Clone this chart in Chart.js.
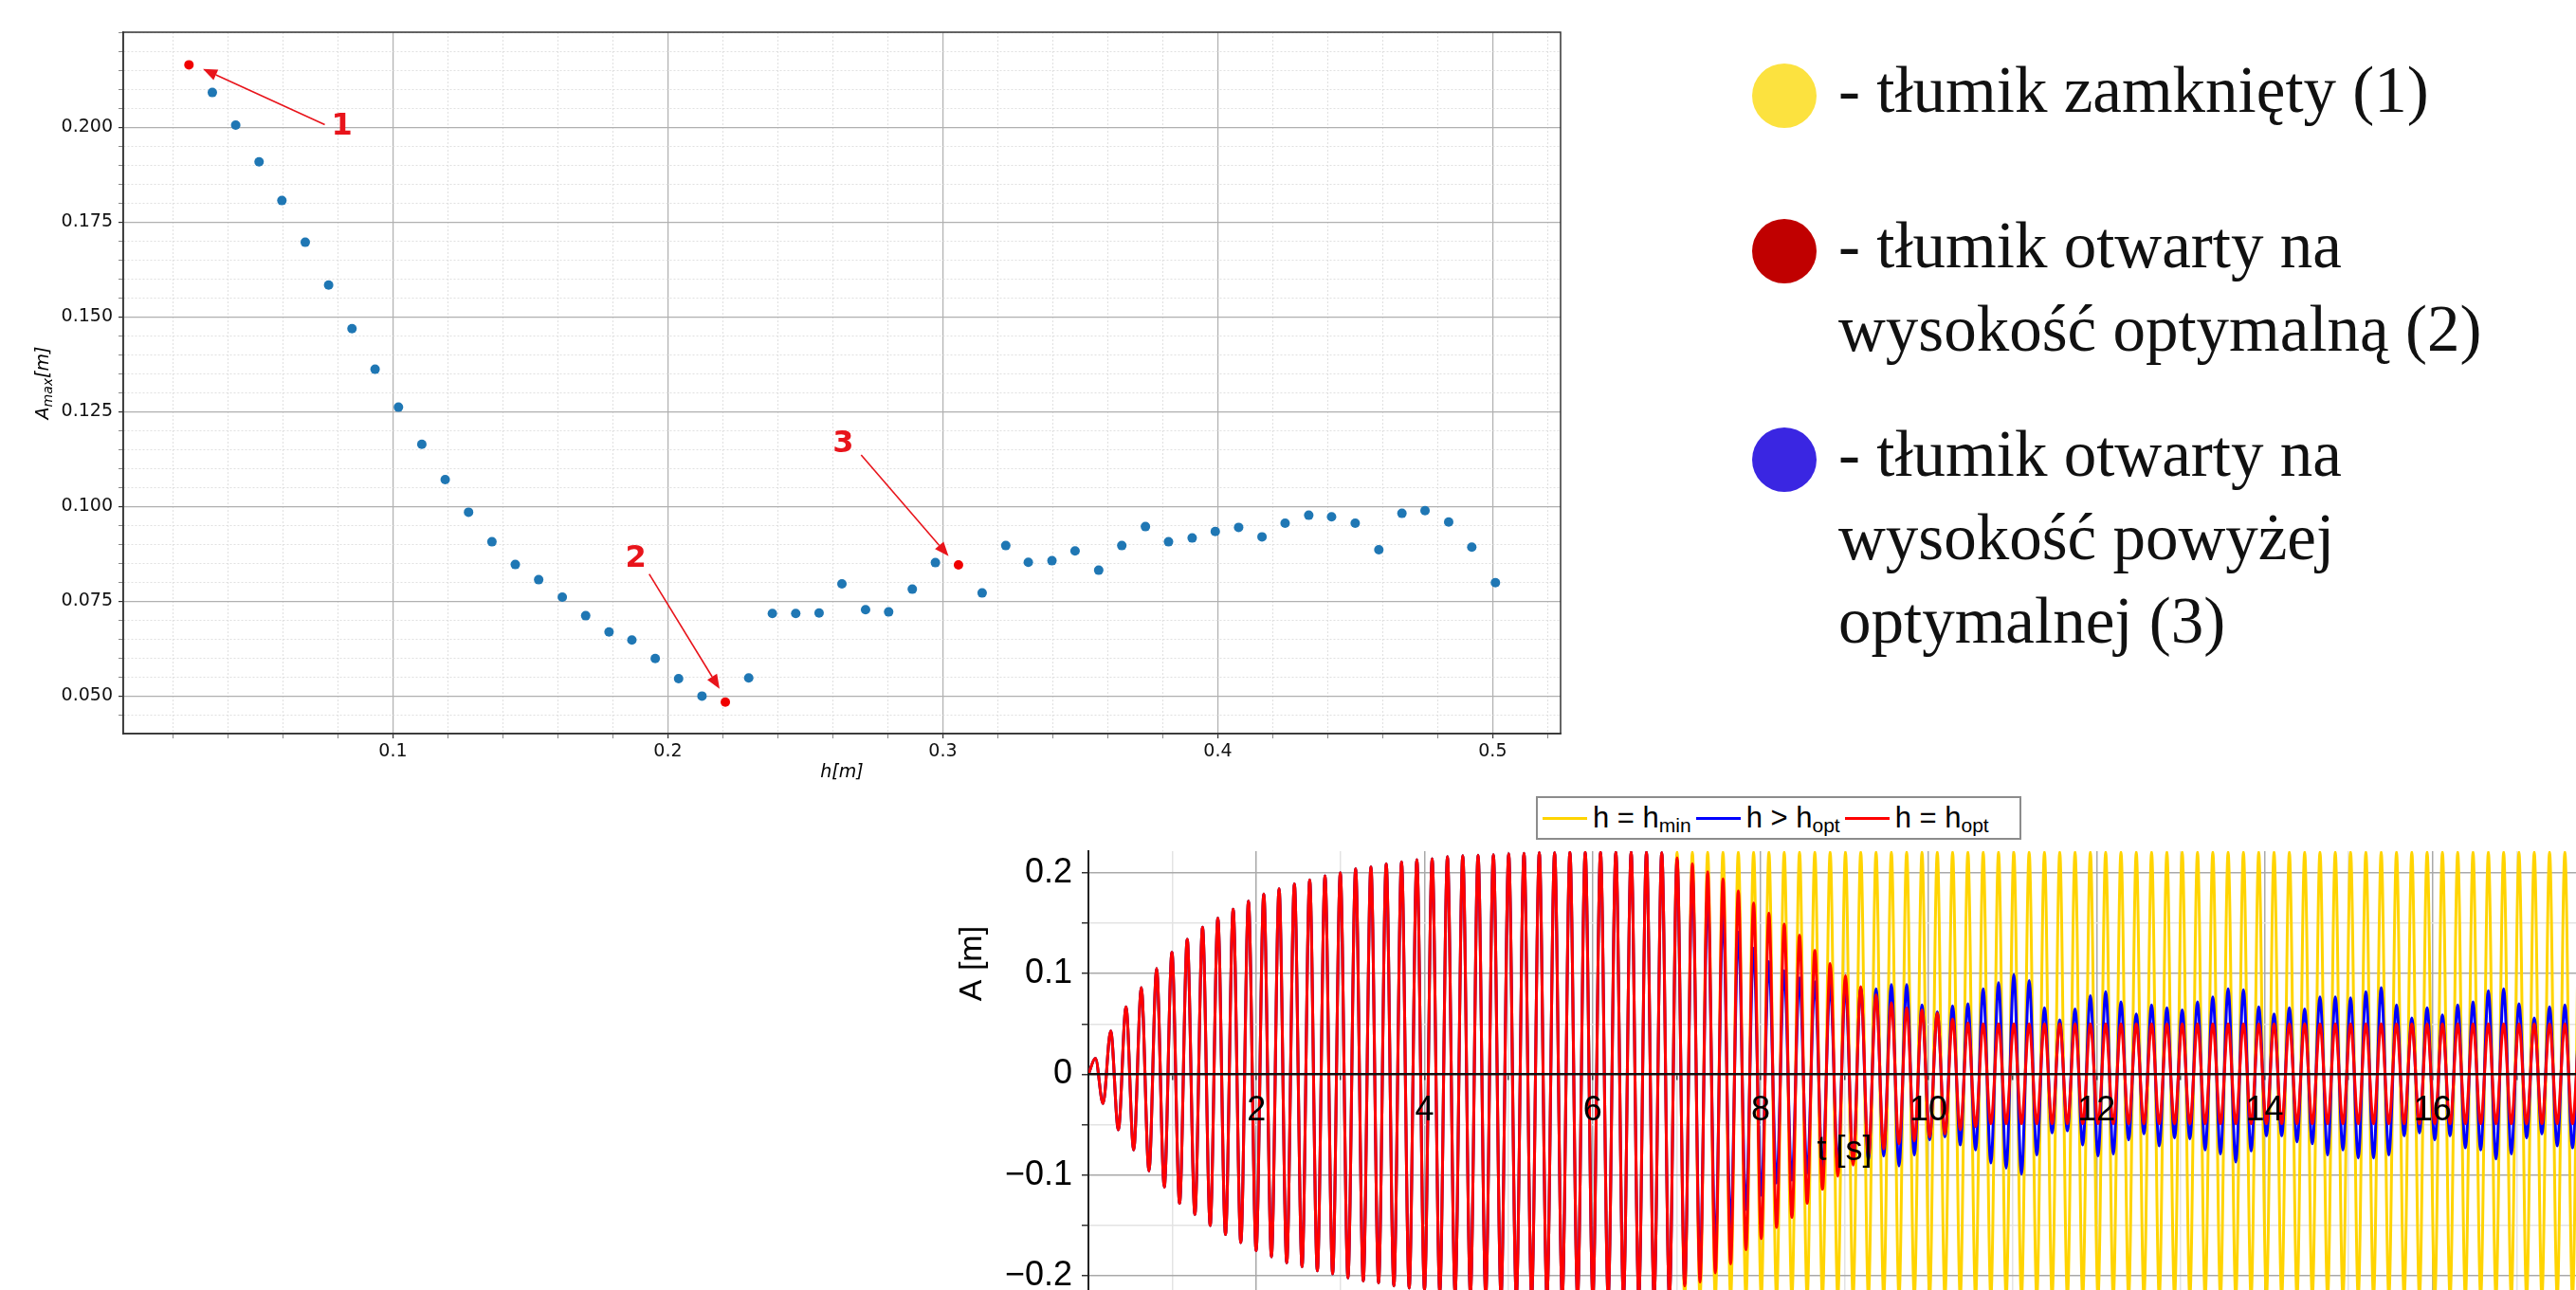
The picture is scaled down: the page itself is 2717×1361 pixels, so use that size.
<!DOCTYPE html>
<html>
<head>
<meta charset="utf-8">
<script src="https://cdn.jsdelivr.net/npm/chart.js@4.4.1/dist/chart.umd.min.js"></script>
<style>
  html, body { margin: 0; padding: 0; background: #fff; }
  body { width: 2717px; height: 1361px; overflow: hidden; position: relative; }
  canvas { position: absolute; }
  #topChart { left: 0; top: 0; }
  #bottomChart { left: 980px; top: 880px; }
  .dot { position: absolute; width: 68px; height: 68px; border-radius: 50%; }
  .txt { position: absolute; left: 1939px; font-family: "Liberation Serif", serif; font-size: 69px;
         line-height: 88px; color: #111; white-space: nowrap; }
  #legend2 { position: absolute; left: 1620px; top: 840px; width: 512px; height: 46px; box-sizing: border-box;
             border: 2px solid #8c8c8c; background: #fff; z-index: 2; display: flex; align-items: center;
             font-family: "Liberation Sans", Arial, sans-serif; font-size: 31px; color: #000; padding-left: 5px; }
  #legend2 .sw { display: inline-block; width: 47px; height: 3px; margin-right: 6px; flex: none; }
  #legend2 .it { display: flex; align-items: center; margin-right: 5px; white-space: nowrap; }
  #legend2 .lb { display: inline-block; line-height: 40px; }
  #legend2 sub { font-size: 21px; vertical-align: -5px; line-height: 0; }
</style>
</head>
<body>
<canvas id="topChart" width="1700" height="840"></canvas>

<div class="dot" style="left:1848px; top:67px; background:#fce23f"></div>
<div class="dot" style="left:1848px; top:231px; background:#c00000"></div>
<div class="dot" style="left:1848px; top:451px; background:#3a26e2"></div>
<div class="txt" style="top:51px">- tłumik zamknięty (1)</div>
<div class="txt" style="top:215px">- tłumik otwarty na<br>wysokość optymalną (2)</div>
<div class="txt" style="top:435px">- tłumik otwarty na<br>wysokość powyżej<br>optymalnej (3)</div>

<div id="legend2"></div>
<canvas id="bottomChart" width="1780" height="489"></canvas>

<script>
// ---------- górny wykres: A_max(h) ----------
const hValues = [
  0.0258, 0.0343, 0.0428, 0.0513, 0.0596, 0.0681, 0.0766, 0.0851, 0.0935, 0.1020,
  0.1105, 0.1190, 0.1275, 0.1360, 0.1445, 0.1530, 0.1616, 0.1701, 0.1786, 0.1869,
  0.1954, 0.2039, 0.2124, 0.2209, 0.2294, 0.2380, 0.2465, 0.2550, 0.2633, 0.2719,
  0.2803, 0.2889, 0.2973, 0.3057, 0.3143, 0.3229, 0.3311, 0.3397, 0.3481, 0.3567,
  0.3651, 0.3737, 0.3821, 0.3907, 0.3991, 0.4076, 0.4161, 0.4245, 0.4331, 0.4414,
  0.4500, 0.4586, 0.4670, 0.4754, 0.4840, 0.4924, 0.5010
];
const aMaxValues = [
  0.2165, 0.2092, 0.2006, 0.1909, 0.1807, 0.1697, 0.1584, 0.1469, 0.1362, 0.1262,
  0.1164, 0.1071, 0.0985, 0.0907, 0.0847, 0.0807, 0.0761, 0.0712, 0.0669, 0.0648,
  0.0599, 0.0546, 0.0500, 0.0484, 0.0548, 0.0718, 0.0718, 0.0719, 0.0796, 0.0728,
  0.0722, 0.0782, 0.0852, 0.0846, 0.0772, 0.0897, 0.0853, 0.0857, 0.0883, 0.0832,
  0.0897, 0.0947, 0.0907, 0.0917, 0.0934, 0.0945, 0.0920, 0.0956, 0.0977, 0.0973,
  0.0956, 0.0886, 0.0982, 0.0989, 0.0959, 0.0893, 0.0799
];
const highlighted = [0, 23, 33];   // punkty 1, 2, 3
const xMajorTicks = [0.1, 0.2, 0.3, 0.4, 0.5];
const yMajorTicks = [0.050, 0.075, 0.100, 0.125, 0.150, 0.175, 0.200];
const xMinorStep = 0.02;
const yMinorStep = 0.005;

const notes = [
  { label: '1', at: [0.0814, 0.2003], from: [0.0752, 0.2007], to: [0.0309, 0.2154] },
  { label: '2', at: [0.1883, 0.0861], from: [0.1932, 0.0822], to: [0.2188, 0.0519] },
  { label: '3', at: [0.2638, 0.1165], from: [0.2703, 0.1136], to: [0.3021, 0.0869] },
];

// ---------- dolny wykres: A(t) ----------
const legendLabels = [['h = h', 'min'], ['h > h', 'opt'], ['h = h', 'opt']];
const seriesColors = ['#ffd400', '#0000ff', '#ff0000'];
const firstPeakT = 0.083;   // s
const period = 0.1822;      // s
const tTicks = [0, 1, 2, 3, 4, 5, 6, 7, 8, 9, 10, 11, 12, 13, 14, 15, 16, 17, 18];
const aTicks = [-0.2, -0.15, -0.1, -0.05, 0, 0.05, 0.1, 0.15, 0.2];

// wspólny narost drgań (okresy 0..37)
const sharedPeaks = [
  0.016, 0.043, 0.067, 0.086, 0.105, 0.121, 0.134, 0.146, 0.155, 0.164,
  0.172, 0.179, 0.184, 0.189, 0.193, 0.197, 0.200, 0.204, 0.206, 0.209,
  0.211, 0.213, 0.214, 0.216, 0.217, 0.2175, 0.218, 0.219, 0.2195, 0.220,
  0.220, 0.2205, 0.2205, 0.2205, 0.2205, 0.2205, 0.2205, 0.220
];
const sharedTroughs = [
  -0.029, -0.055, -0.075, -0.096, -0.112, -0.128, -0.139, -0.150, -0.159, -0.167,
  -0.175, -0.181, -0.187, -0.191, -0.195, -0.198, -0.202, -0.205, -0.207, -0.210,
  -0.212, -0.214, -0.216, -0.217, -0.218, -0.219, -0.220, -0.2205, -0.221, -0.2215,
  -0.2215, -0.2215, -0.2215, -0.2215, -0.2215, -0.2215, -0.2215, -0.2215
];
// okresy 38..98
const yellowPeaks = [
  0.2205, 0.2205, 0.2205, 0.2205, 0.2205, 0.2205, 0.2205, 0.2205, 0.2205, 0.2205,
  0.2205, 0.2205, 0.2205, 0.2205, 0.2205, 0.2205, 0.2205, 0.2205, 0.2205, 0.2205,
  0.2205, 0.2205, 0.2205, 0.2205, 0.2205, 0.2205, 0.2205, 0.2205, 0.2205, 0.2205,
  0.2205, 0.2205, 0.2205, 0.2205, 0.2205, 0.2205, 0.2205, 0.2205, 0.2205, 0.2205,
  0.2205, 0.2205, 0.2205, 0.2205, 0.2205, 0.2205, 0.2205, 0.2205, 0.2205, 0.2205,
  0.2205, 0.2205, 0.2205, 0.2205, 0.2205, 0.2205, 0.2205, 0.2205, 0.2205, 0.2205,
  0.2205
];
const yellowTroughs = [
  -0.2215, -0.2215, -0.2215, -0.2215, -0.2215, -0.2215, -0.2215, -0.2215, -0.2215, -0.2215,
  -0.2215, -0.2215, -0.2215, -0.2215, -0.2215, -0.2215, -0.2215, -0.2215, -0.2215, -0.2215,
  -0.2215, -0.2215, -0.2215, -0.2215, -0.2215, -0.2215, -0.2215, -0.2215, -0.2215, -0.2215,
  -0.2215, -0.2215, -0.2215, -0.2215, -0.2215, -0.2215, -0.2215, -0.2215, -0.2215, -0.2215,
  -0.2215, -0.2215, -0.2215, -0.2215, -0.2215, -0.2215, -0.2215, -0.2215, -0.2215, -0.2215,
  -0.2215, -0.2215, -0.2215, -0.2215, -0.2215, -0.2215, -0.2215, -0.2215, -0.2215, -0.2215,
  -0.2215
];
const redPeaks = [
  0.215, 0.209, 0.201, 0.194, 0.182, 0.170, 0.160, 0.149, 0.138, 0.123,
  0.110, 0.098, 0.087, 0.079, 0.071, 0.066, 0.064, 0.061, 0.055, 0.051,
  0.050, 0.050, 0.050, 0.050, 0.050, 0.050, 0.050, 0.050, 0.050, 0.050,
  0.050, 0.050, 0.050, 0.050, 0.050, 0.050, 0.050, 0.050, 0.050, 0.050,
  0.050, 0.050, 0.050, 0.050, 0.050, 0.050, 0.050, 0.050, 0.050, 0.050,
  0.050, 0.050, 0.050, 0.050, 0.050, 0.050, 0.050, 0.050, 0.050, 0.050,
  0.050
];
const redTroughs = [
  -0.210, -0.206, -0.197, -0.188, -0.174, -0.163, -0.152, -0.142, -0.128, -0.114,
  -0.101, -0.090, -0.081, -0.074, -0.069, -0.066, -0.062, -0.059, -0.055, -0.052,
  -0.049, -0.049, -0.049, -0.049, -0.049, -0.049, -0.049, -0.049, -0.049, -0.049,
  -0.049, -0.049, -0.049, -0.049, -0.049, -0.049, -0.049, -0.049, -0.049, -0.049,
  -0.049, -0.049, -0.049, -0.049, -0.049, -0.049, -0.049, -0.049, -0.049, -0.049,
  -0.049, -0.049, -0.049, -0.049, -0.049, -0.049, -0.049, -0.049, -0.049, -0.049,
  -0.049
];
const bluePeaks = [
  0.213, 0.198, 0.180, 0.160, 0.141, 0.125, 0.112, 0.103, 0.096, 0.092,
  0.090, 0.088, 0.086, 0.085, 0.089, 0.089, 0.069, 0.062, 0.068, 0.070,
  0.085, 0.091, 0.099, 0.093, 0.066, 0.054, 0.065, 0.078, 0.082, 0.072,
  0.060, 0.069, 0.066, 0.064, 0.072, 0.077, 0.085, 0.084, 0.067, 0.060,
  0.066, 0.065, 0.077, 0.077, 0.076, 0.082, 0.086, 0.069, 0.056, 0.066,
  0.059, 0.069, 0.072, 0.083, 0.085, 0.070, 0.056, 0.067, 0.069, 0.066,
  0.070
];
const blueTroughs = [
  -0.208, -0.192, -0.172, -0.152, -0.134, -0.120, -0.108, -0.105, -0.098, -0.094,
  -0.090, -0.088, -0.085, -0.081, -0.091, -0.080, -0.065, -0.062, -0.070, -0.075,
  -0.088, -0.093, -0.099, -0.080, -0.058, -0.056, -0.070, -0.081, -0.079, -0.065,
  -0.059, -0.071, -0.063, -0.064, -0.075, -0.079, -0.087, -0.076, -0.061, -0.061,
  -0.067, -0.069, -0.080, -0.075, -0.083, -0.083, -0.080, -0.061, -0.058, -0.065,
  -0.061, -0.073, -0.075, -0.084, -0.079, -0.063, -0.059, -0.071, -0.073, -0.068,
  -0.070
];

// ================= górny wykres =================
const topFont = '"DejaVu Sans", sans-serif';
const near = (list, v) => list.some(m => Math.abs(m - v) < 1e-9);

function minorTicks(from, to, step) {
  const out = [];
  for (let v = from; v <= to + 1e-9; v += step) out.push(Math.round(v * 10000) / 10000);
  return out;
}

const topFrame = {
  id: 'topFrame',
  afterDraw(chart) {
    const { ctx, chartArea: a } = chart;
    ctx.save();
    ctx.strokeStyle = '#333';
    ctx.lineWidth = 1.5;
    ctx.strokeRect(a.left, a.top, a.right - a.left, a.bottom - a.top);
    ctx.restore();
  }
};

const topNotes = {
  id: 'topNotes',
  afterDatasetsDraw(chart) {
    const { ctx, scales: { x, y } } = chart;
    ctx.save();
    ctx.strokeStyle = '#e8141b';
    ctx.fillStyle = '#e8141b';
    ctx.lineWidth = 1.6;
    notes.forEach(n => {
      const x1 = x.getPixelForValue(n.from[0]), y1 = y.getPixelForValue(n.from[1]);
      const x2 = x.getPixelForValue(n.to[0]), y2 = y.getPixelForValue(n.to[1]);
      const ang = Math.atan2(y2 - y1, x2 - x1);
      const hl = 15, hw = 6;
      const bx = x2 - hl * Math.cos(ang), by = y2 - hl * Math.sin(ang);
      ctx.beginPath();
      ctx.moveTo(x1, y1);
      ctx.lineTo(bx, by);
      ctx.stroke();
      ctx.beginPath();
      ctx.moveTo(x2, y2);
      ctx.lineTo(bx + hw * Math.sin(ang), by - hw * Math.cos(ang));
      ctx.lineTo(bx - hw * Math.sin(ang), by + hw * Math.cos(ang));
      ctx.closePath();
      ctx.fill();
      ctx.font = 'bold 32px ' + topFont;
      ctx.textAlign = 'center';
      ctx.textBaseline = 'middle';
      ctx.fillText(n.label, x.getPixelForValue(n.at[0]), y.getPixelForValue(n.at[1]));
    });
    ctx.restore();
  }
};

const topYTitle = {
  id: 'topYTitle',
  afterDraw(chart) {
    const { ctx, chartArea: a } = chart;
    const big = 'italic 19px ' + topFont, small = 'italic 14px ' + topFont;
    ctx.save();
    ctx.translate(a.left - 84, (a.top + a.bottom) / 2);
    ctx.rotate(-Math.PI / 2);
    ctx.fillStyle = '#000';
    ctx.textBaseline = 'middle';
    ctx.font = big; const wA = ctx.measureText('A').width;
    ctx.font = small; const wS = ctx.measureText('max').width;
    ctx.font = big; const wM = ctx.measureText('[m]').width;
    let px = -(wA + wS + wM) / 2;
    ctx.fillText('A', px, 0); px += wA;
    ctx.font = small; ctx.fillText('max', px, 5); px += wS;
    ctx.font = big; ctx.fillText('[m]', px, 0);
    ctx.restore();
  }
};

new Chart(document.getElementById('topChart'), {
  type: 'scatter',
  data: {
    datasets: [{
      data: hValues.map((h, i) => ({ x: h, y: aMaxValues[i] })),
      pointRadius: 5,
      pointBorderWidth: 0,
      pointBackgroundColor: hValues.map((h, i) => highlighted.includes(i) ? '#f00000' : '#1f77b4'),
    }]
  },
  options: {
    responsive: false,
    animation: false,
    events: [],
    layout: { padding: { top: 34, right: 54, left: 0, bottom: 0 } },
    plugins: { legend: { display: false }, tooltip: { enabled: false } },
    scales: {
      x: {
        type: 'linear', min: 0.0019, max: 0.5247,
        afterBuildTicks: s => { s.ticks = minorTicks(xMinorStep, 0.52, xMinorStep).map(v => ({ value: v })); },
        afterFit: s => { s.height = 66; },
        ticks: {
          autoSkip: false, maxRotation: 0, padding: 3, color: '#111',
          font: { family: topFont, size: 19 },
          callback: v => near(xMajorTicks, v) ? v.toFixed(1) : '',
        },
        grid: {
          color: c => near(xMajorTicks, c.tick.value) ? '#b0b0b0' : '#e0e0e0',
          lineWidth: c => near(xMajorTicks, c.tick.value) ? 1.2 : 1,
          tickLength: 5,
          tickColor: c => near(xMajorTicks, c.tick.value) ? '#333' : '#888',
        },
        border: { color: '#333', width: 1.5, dash: c => (c.tick && !near(xMajorTicks, c.tick.value)) ? [2, 2] : [] },
        title: { display: true, text: 'h[m]', color: '#000', font: { family: topFont, size: 19, style: 'italic' }, padding: { top: 0, bottom: 14 } },
      },
      y: {
        type: 'linear', min: 0.0401, max: 0.2251,
        afterBuildTicks: s => { s.ticks = minorTicks(0.045, 0.225, yMinorStep).map(v => ({ value: v })); },
        afterFit: s => { s.width = 130; },
        ticks: {
          autoSkip: false, padding: 6, color: '#111',
          font: { family: topFont, size: 19 },
          callback: v => near(yMajorTicks, v) ? v.toFixed(3) : '',
        },
        grid: {
          color: c => near(yMajorTicks, c.tick.value) ? '#b0b0b0' : '#e0e0e0',
          lineWidth: c => near(yMajorTicks, c.tick.value) ? 1.2 : 1,
          tickLength: 5,
          tickColor: c => near(yMajorTicks, c.tick.value) ? '#333' : '#888',
        },
        border: { color: '#333', width: 1.5, dash: c => (c.tick && !near(yMajorTicks, c.tick.value)) ? [2, 2] : [] },
      }
    }
  },
  plugins: [topNotes, topYTitle, topFrame]
});

// ================= dolny wykres =================
const botFont = '"Liberation Sans", Arial, sans-serif';

function buildSeries(tailPeaks, tailTroughs) {
  const peaks = sharedPeaks.concat(tailPeaks);
  const troughs = sharedTroughs.concat(tailTroughs);
  const pts = [{ x: 0, y: 0 }];
  for (let k = 0; k < peaks.length; k++) {
    pts.push({ x: firstPeakT + k * period, y: peaks[k] });
    pts.push({ x: firstPeakT + (k + 0.5) * period, y: troughs[k] });
  }
  return pts;
}

const lg = document.getElementById('legend2');
legendLabels.forEach((l, i) => {
  const it = document.createElement('span');
  it.className = 'it';
  it.innerHTML = '<span class="sw" style="background:' + seriesColors[i] + '"></span>' +
                 '<span class="lb">' + l[0] + '<sub>' + l[1] + '</sub></span>';
  lg.appendChild(it);
});

// tytuły osi rysowane nad przebiegami
const bottomTitles = {
  id: 'bottomTitles',
  afterDatasetsDraw(chart) {
    const { ctx, scales: { x, y } } = chart;
    ctx.save();
    ctx.font = '34px ' + botFont;
    ctx.fillStyle = '#000';
    ctx.textAlign = 'center';
    ctx.textBaseline = 'middle';
    ctx.translate(y.left + 46, y.getPixelForValue(0.11));
    ctx.rotate(-Math.PI / 2);
    ctx.fillText('A [m]', 0, 0);
    ctx.restore();

    ctx.save();
    ctx.font = '36px ' + botFont;
    ctx.fillStyle = '#000';
    ctx.textAlign = 'center';
    ctx.textBaseline = 'middle';
    ctx.fillText('t [s]', (x.left + x.right) / 2, y.getPixelForValue(0) + 81);
    ctx.restore();
  }
};

const lineStyle = { borderWidth: 3, pointRadius: 0, fill: false, cubicInterpolationMode: 'monotone' };

new Chart(document.getElementById('bottomChart'), {
  type: 'line',
  data: {
    datasets: [
      Object.assign({ data: buildSeries(redPeaks, redTroughs), borderColor: seriesColors[2], order: 0 }, lineStyle),
      Object.assign({ data: buildSeries(bluePeaks, blueTroughs), borderColor: seriesColors[1], order: 1 }, lineStyle),
      Object.assign({ data: buildSeries(yellowPeaks, yellowTroughs), borderColor: seriesColors[0], order: 2 }, lineStyle),
    ]
  },
  options: {
    responsive: false,
    animation: false,
    events: [],
    parsing: false,
    layout: { padding: { top: 18, right: 17, left: 0, bottom: 0 } },
    plugins: { legend: { display: false }, tooltip: { enabled: false } },
    scales: {
      x: {
        type: 'linear', min: 0, max: 18, position: { y: 0 },
        afterBuildTicks: s => { s.ticks = tTicks.map(v => ({ value: v })); },
        afterFit: s => { s.height = 107; s.paddingLeft = 0; s.paddingRight = 0; s.paddingTop = 0; s.paddingBottom = 0; },
        ticks: {
          autoSkip: false, maxRotation: 0, padding: 12, color: '#000', z: 1,
          font: { family: botFont, size: 36 },
          callback: v => (v % 2 === 0 && v > 0 && v < 18) ? String(v) : '',
        },
        grid: {
          color: c => c.tick.value === 0 ? 'rgba(0,0,0,0)' : (c.tick.value % 2 === 0 ? '#a9a9a9' : '#e3e3e3'),
          lineWidth: 1.5, tickLength: 5, tickColor: '#444',
        },
        border: { color: '#111', width: 2.5, z: 1 },
        title: { display: false },
      },
      y: {
        type: 'linear', min: -0.2215, max: 0.2215, position: 'left',
        afterBuildTicks: s => { s.ticks = aTicks.map(v => ({ value: v })); },
        afterFit: s => { s.width = 168; s.paddingTop = 0; s.paddingBottom = 0; },
        ticks: {
          autoSkip: false, padding: 10, color: '#000',
          font: { family: botFont, size: 36 },
          callback: v => {
            if (Math.abs(v) < 1e-9) return '0';
            if (Math.abs(v * 10 - Math.round(v * 10)) > 1e-6) return '';
            return (v < 0 ? '\u2212' : '') + Math.abs(v).toFixed(1);
          },
        },
        grid: {
          color: c => Math.abs(c.tick.value) < 1e-9 ? 'rgba(0,0,0,0)'
            : (Math.abs(c.tick.value * 10 - Math.round(c.tick.value * 10)) < 1e-6 ? '#a9a9a9' : '#e3e3e3'),
          lineWidth: 1.5, tickLength: 7, tickColor: '#333',
        },
        border: { color: '#222', width: 2 },
      }
    }
  },
  plugins: [bottomTitles]
});
</script>
</body>
</html>
